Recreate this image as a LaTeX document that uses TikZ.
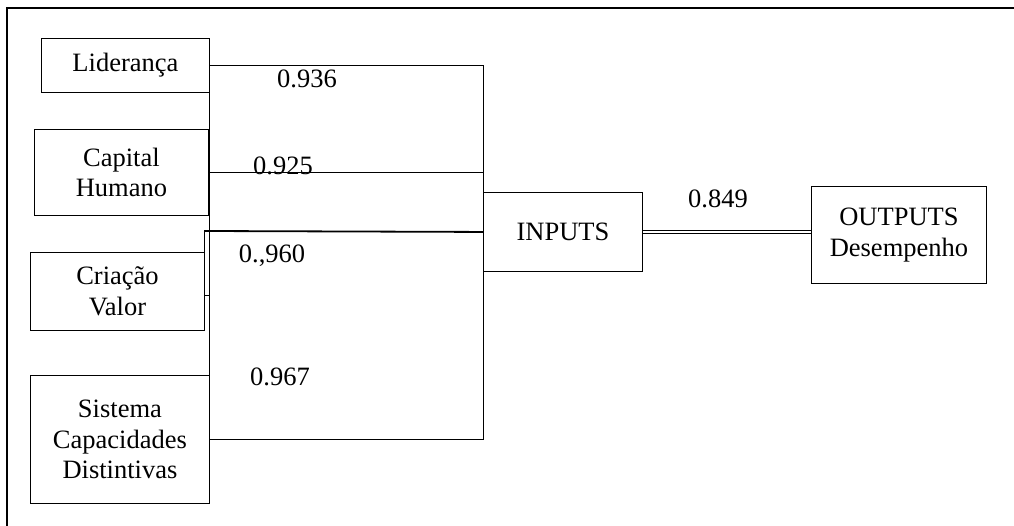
\documentclass[tikz,border=0pt]{standalone}
\usepackage{fontspec}
\setmainfont{Liberation Serif}
\begin{document}
\begin{tikzpicture}[x=1pt,y=-1pt,
  every node/.style={font=\fontsize{26.5}{30.5}\selectfont},
  box/.style={draw, line width=0.9pt, inner sep=0pt, align=center, anchor=north west},
  wire/.style={line width=0.9pt},
  coef/.style={anchor=base, inner sep=0pt}]
\useasboundingbox (0,0) rectangle (1014,526);
% frame: top and left border only
\draw[line width=1.2pt] (1014,8) -- (7,8) -- (7,526);

% factor boxes
\node[box, minimum width=168pt, minimum height=54pt] (lid) at (41,38) {Liderança};
\node[box, minimum width=174pt, minimum height=86pt] (cap) at (34,129) {Capital\\Humano};
\node[box, minimum width=174pt, minimum height=78pt] (cri) at (30,252) {Criação\\Valor};
\node[box, minimum width=179pt, minimum height=128pt] (sis) at (30,375) {Sistema\\Capacidades\\Distintivas};
\node[box, minimum width=159pt, minimum height=79pt] (inp) at (483,192) {INPUTS};
\node[box, minimum width=175pt, minimum height=97pt] (out) at (811,186) {OUTPUTS\\Desempenho};

% links from the factors into INPUTS
\draw[wire] (lid.east) -- (lid.east -| inp.west) -- (sis.east -| inp.west) -- (sis.east);
\draw[wire] (lid.east) -- (sis.east);
\draw[wire] (cap.east) -- (cap.east -| inp.west);
\coordinate (crA) at (204,231);
\coordinate (crB) at (209,295);
\draw[wire] (crA) rectangle (crB);
\draw[line width=1.8pt] (crA) -- (inp.west);

% INPUTS to OUTPUTS
\draw[double, double distance=2pt, line width=0.7pt] (inp.east) -- (inp.east -| out.west);

% coefficients
\node[coef] (c1) at (307,88) {0.936};
\node[coef] (c2) at (283,175) {0.925};
\node[coef] (c3) at (272,263) {0.,960};
\node[coef] (c4) at (280,385) {0.967};
\node[coef] (c5) at (718,208) {0.849};
\end{tikzpicture}
\end{document}
